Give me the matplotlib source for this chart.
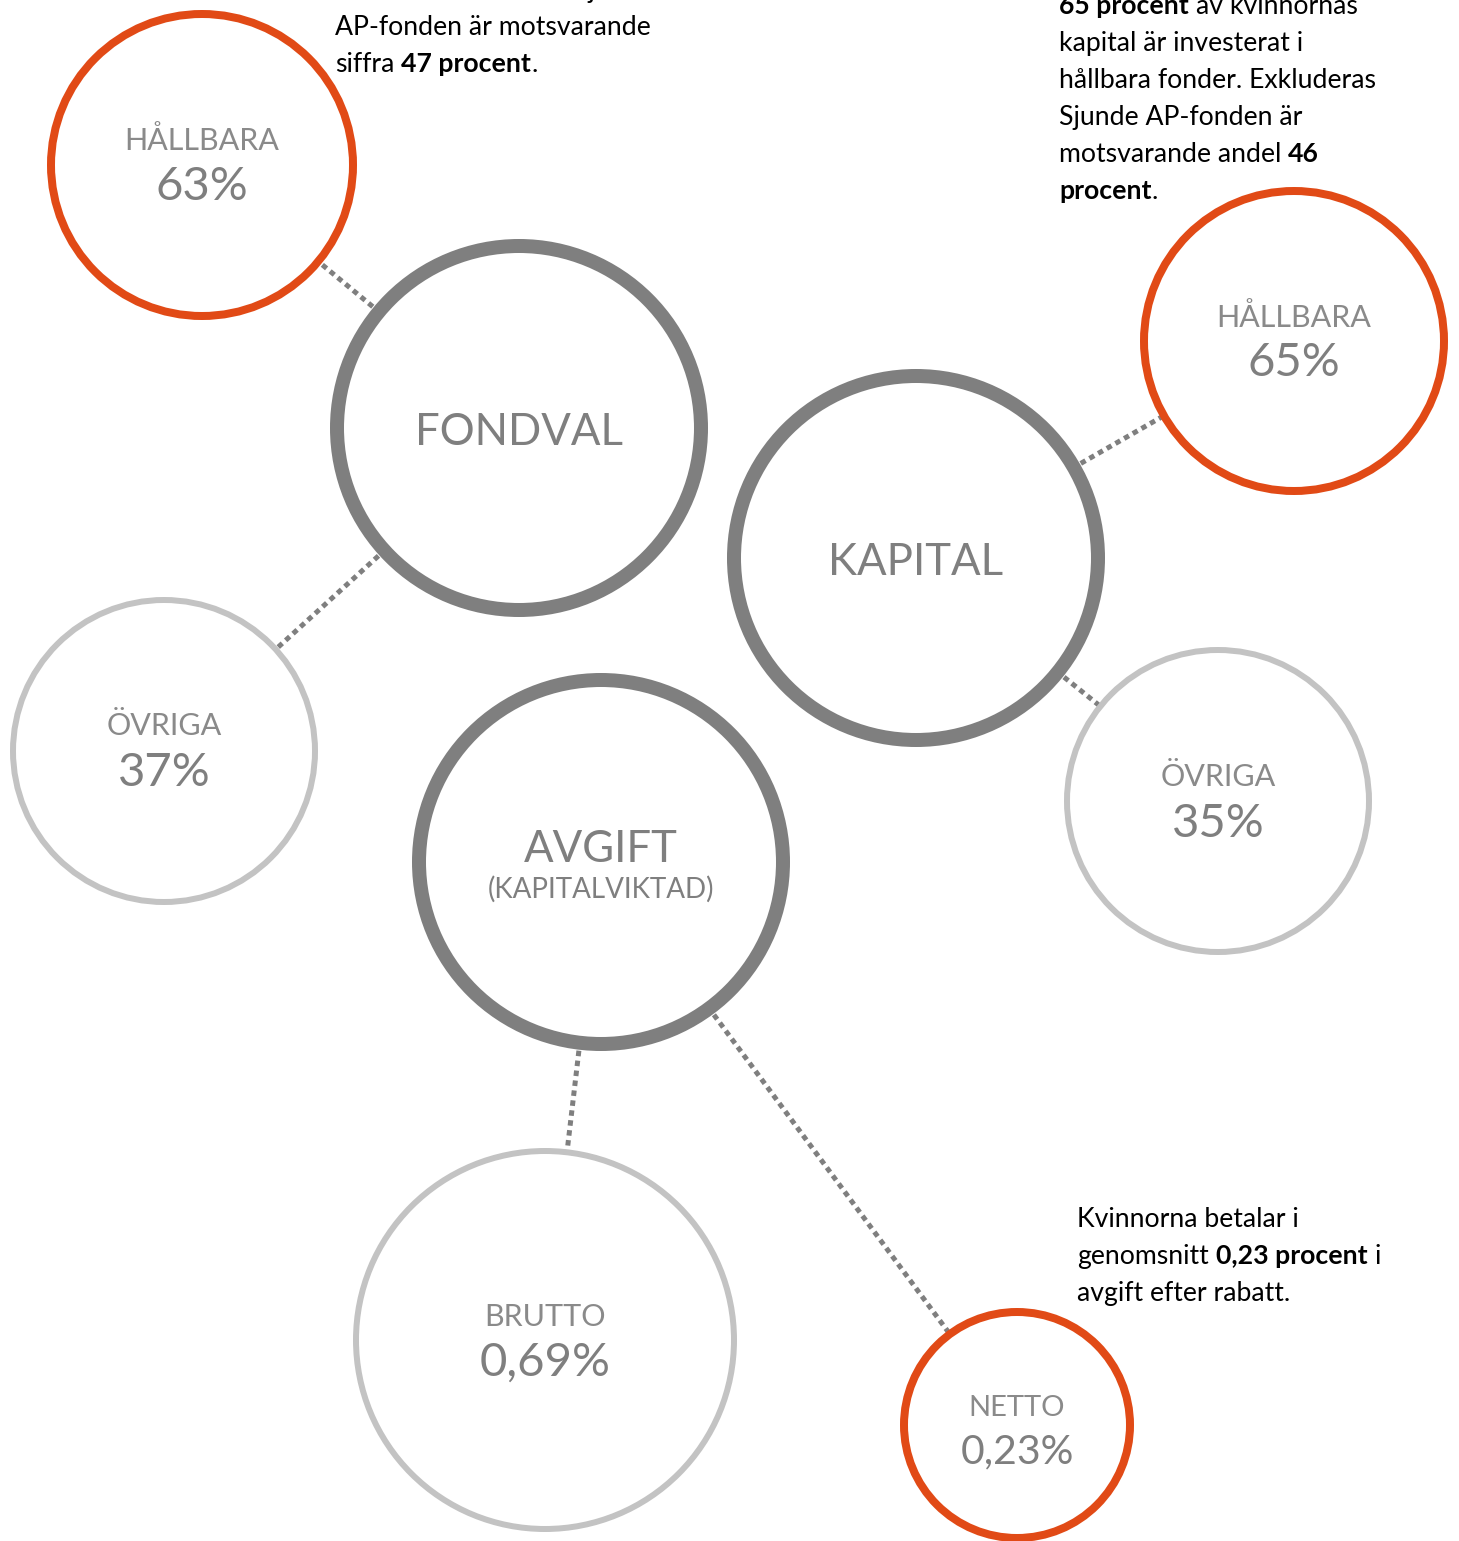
import matplotlib.pyplot as plt
from matplotlib.patches import Circle

plt.rcParams['font.family'] = ['Lato', 'DejaVu Sans']

# --- data ---
main_labels = ['FONDVAL', 'KAPITAL', 'AVGIFT']
main_notes = ['', '', '(KAPITALVIKTAD)']
sub_labels = ['HÅLLBARA', 'ÖVRIGA', 'HÅLLBARA', 'ÖVRIGA', 'BRUTTO', 'NETTO']
sub_values = ['63%', '37%', '65%', '35%', '0,69%', '0,23%']
sub_parent = [0, 0, 1, 1, 2, 2]
sub_highlight = [True, False, True, False, False, True]

# annotation texts: lines of (text, bold) parts
note_fondval = [
    [('hållbara. Exkluderas Sjunde', False)],
    [('AP-fonden är motsvarande', False)],
    [('siffra ', False), ('47 procent', True), ('.', False)],
]
note_kapital = [
    [('65 procent', True), (' av kvinnornas', False)],
    [('kapital är investerat i', False)],
    [('hållbara fonder. Exkluderas', False)],
    [('Sjunde AP-fonden är', False)],
    [('motsvarande andel ', False), ('46', True)],
    [('procent', True), ('.', False)],
]
note_netto = [
    [('Kvinnorna betalar i', False)],
    [('genomsnitt ', False), ('0,23 procent', True), (' i', False)],
    [('avgift efter rabatt.', False)],
]

# --- layout (pixel units) ---
W, H = 1459, 1541
main_xy = [(519, 428), (916, 558), (601, 862)]
main_r = 182
sub_xy = [(202, 165), (164, 751), (1294, 341), (1218, 801), (545, 1340), (1017, 1425)]
sub_r = [151, 151, 150, 151, 189, 113]
sub_fs = [(22, 34), (22, 34), (22, 34), (22, 34), (22, 34), (21, 29.5)]
sub_dy = [(-15, 35), (-16, 35), (-14, 35), (-15, 36), (-14, 36), (-9, 38)]

ORANGE = '#e14a16'
DARK = '#7f7f7f'
LIGHT = '#c3c3c3'
TXT = '#7f7f7f'
PX = 0.72  # points per pixel at dpi 100

fig = plt.figure(figsize=(W / 100, H / 100), dpi=100)
ax = fig.add_axes([0, 0, 1, 1])
ax.set_xlim(0, W)
ax.set_ylim(H, 0)
ax.axis('off')

# dotted connectors (drawn centre to centre, hidden under filled circles)
for i, p in enumerate(sub_parent):
    (x0, y0), (x1, y1) = main_xy[p], sub_xy[i]
    ax.plot([x0, x1], [y0, y1], color=DARK, lw=5 * PX,
            linestyle=(0, (1.1, 0.9)), solid_capstyle='butt',
            dash_capstyle='butt', zorder=1)

for i, (x, y) in enumerate(main_xy):
    ax.add_patch(Circle((x, y), main_r, facecolor='white', edgecolor=DARK,
                        lw=14 * PX, zorder=2))
    if main_notes[i]:
        ax.text(x, y, main_labels[i], fontsize=31.5, color=TXT,
                ha='center', va='baseline', zorder=3)
        ax.text(x, y + 36, main_notes[i], fontsize=20, color=TXT,
                ha='center', va='baseline', zorder=3)
    else:
        ax.text(x, y + 17, main_labels[i], fontsize=31.5, color=TXT,
                ha='center', va='baseline', zorder=3)

for i, (x, y) in enumerate(sub_xy):
    hl = sub_highlight[i]
    ax.add_patch(Circle((x, y), sub_r[i], facecolor='white',
                        edgecolor=ORANGE if hl else LIGHT,
                        lw=(8 if hl else 6) * PX, zorder=2))
    fs1, fs2 = sub_fs[i]
    d1, d2 = sub_dy[i]
    ax.text(x, y + d1, sub_labels[i], fontsize=fs1, color='#8a8a8a',
            ha='center', va='baseline', zorder=3)
    ax.text(x, y + d2, sub_values[i], fontsize=fs2, color=TXT,
            ha='center', va='baseline', zorder=3)

fig.canvas.draw()
rend = fig.canvas.get_renderer()


def width(s, size, bold):
    t = ax.text(0, 0, s, fontsize=size, fontweight='bold' if bold else 'normal')
    w = t.get_window_extent(rend).width
    t.remove()
    return w


def rich_block(x0, y0, lines, size=19.2, step=37):
    sp = {b: width('x x', size, b) - width('xx', size, b) for b in (False, True)}
    for k, parts in enumerate(lines):
        x = x0
        y = y0 + k * step
        for s, bold in parts:
            lead = len(s) - len(s.lstrip(' '))
            trail = len(s) - len(s.rstrip(' '))
            x += lead * sp[bold]
            core = s.strip(' ')
            t = ax.text(x, y, core, fontsize=size, color='black',
                        fontweight='bold' if bold else 'normal',
                        ha='left', va='baseline', zorder=4)
            x += t.get_window_extent(rend).width + trail * sp[bold]


rich_block(335, -2, note_fondval)
rich_block(1059, 14, note_kapital)
rich_block(1077, 1227, note_netto)

fig.savefig('out.png', dpi=100)
